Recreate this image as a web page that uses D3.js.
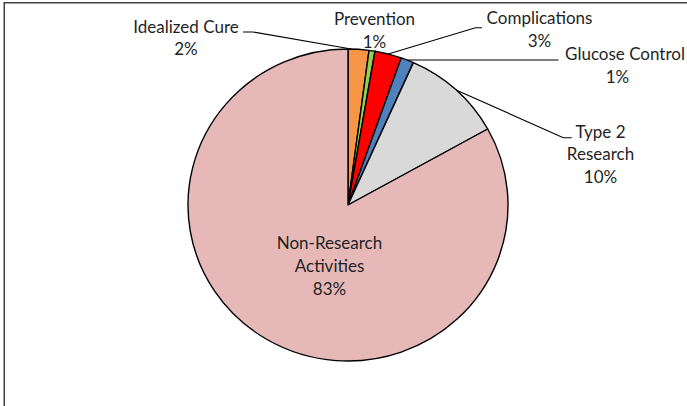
<!DOCTYPE html>
<html>
<head>
<meta charset="utf-8">
<script src="https://cdn.jsdelivr.net/npm/d3@7"></script>
<style>
  html, body { margin: 0; padding: 0; background: #fff; }
  svg { display: block; }
  text { font-family: Lato, "Open Sans", sans-serif; font-size: 17px; fill: #1f1f1f; }
</style>
</head>
<body>
<svg id="chart" width="687" height="406"></svg>
<script>
// Share of spending by category (percent)
const categories = ["Idealized Cure", "Prevention", "Complications", "Glucose Control", "Type 2 Research", "Non-Research Activities"];
const shares = [2.1, 0.6, 2.7, 1.3, 10.2, 83.1];
const sliceColors = ["#F79646", "#92D050", "#FF0000", "#4F81BD", "#D9D9D9", "#E6B9B8"];
// Category names as wrapped in the labels
const labelLines = [["Idealized Cure"], ["Prevention"], ["Complications"], ["Glucose Control"], ["Type 2", "Research"], ["Non-Research", "Activities"]];

// Label placement: per-line centre x, first baseline, leader elbow/end and attach point within slice
const labelLayout = [
  { xs: [186], y: 32.5, leader: [[253, 32], [243, 32]], at: 0.15 },
  { xs: [374.5], y: 25, leader: null },
  { xs: [539.5], y: 24, leader: [[475.5, 27.7], [482, 27.7]], at: 0.5 },
  { xs: [625, 617.5], y: 60, leader: [[558.5, 60]], at: 0.5, flat: true },
  { xs: [600.5], y: 137.7, leader: [[563.3, 137.7], [571.7, 137.7]], at: 0.5 },
  { xs: [329.5], y: 249.3, leader: null }
];
const lineHeight = 22.6;

const svg = d3.select("#chart");
const cx = 348, cy = 205, rx = 160, ry = 156;

// chart frame
svg.append("rect")
  .attr("x", 4.25).attr("y", 2.75)
  .attr("width", 720).attr("height", 440)
  .attr("fill", "none")
  .attr("stroke", "#404040")
  .attr("stroke-width", 1.5);

const pie = d3.pie().sort(null).value(d => d)(shares);
const arc = d3.arc().innerRadius(0).outerRadius(rx);

const pieG = svg.append("g")
  .attr("transform", `translate(${cx},${cy}) scale(1,${ry / rx})`);

pieG.selectAll("path")
  .data(pie)
  .join("path")
  .attr("d", arc)
  .attr("fill", (d, i) => sliceColors[i])
  .attr("stroke", "#000")
  .attr("stroke-width", 1.4)
  .attr("stroke-linejoin", "round");

const fmt = v => Math.round(v) + "%";

// point on the pie rim at a fraction of a slice's sweep
function rimPoint(d, frac) {
  const a = d.startAngle + (d.endAngle - d.startAngle) * frac;
  return [cx + rx * Math.sin(a), cy - ry * Math.cos(a)];
}

const labelsG = svg.append("g");
pie.forEach((d, i) => {
  const lay = labelLayout[i];
  if (lay.leader) {
    const start = rimPoint(d, lay.at);
    if (lay.flat) start[1] = lay.leader[0][1];
    const pts = [start, ...lay.leader];
    labelsG.append("path")
      .attr("d", d3.line()(pts))
      .attr("fill", "none")
      .attr("stroke", "#000")
      .attr("stroke-width", 1.1);
  }
  const lines = [...labelLines[i], fmt(shares[i])];
  const t = labelsG.append("text").attr("text-anchor", "middle");
  lines.forEach((s, k) => {
    const x = lay.xs[Math.min(k, lay.xs.length - 1)];
    t.append("tspan")
      .attr("x", x)
      .attr("y", lay.y + k * lineHeight)
      .text(s);
  });
});
</script>
</body>
</html>
